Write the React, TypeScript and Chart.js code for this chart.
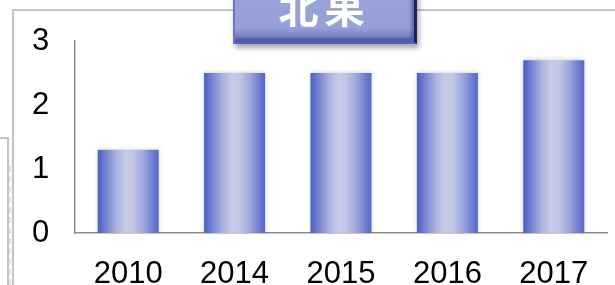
import React, { useEffect, useRef } from "react";
import { Chart, registerables } from "chart.js";

Chart.register(...registerables);

const categories = ["2010", "2014", "2015", "2016", "2017"];
const values = [1.3, 2.5, 2.5, 2.5, 2.7];
const yTicks = [0, 1, 2, 3];
const titleText = "北果";

const W = 615;
const H = 285;
const BAR_PCT = 0.573;

export default function App() {
  const ref = useRef<HTMLCanvasElement | null>(null);

  useEffect(() => {
    const canvas = ref.current;
    if (!canvas) return;

    const shadowPlugin = {
      id: "barShadow",
      beforeDatasetsDraw(chart: any) {
        const c = chart.ctx;
        c.save();
        c.shadowColor = "rgba(0,0,0,0.22)";
        c.shadowBlur = 5;
        c.shadowOffsetX = 0;
        c.shadowOffsetY = 0;
      },
      afterDatasetsDraw(chart: any) {
        chart.ctx.restore();
      },
    };

    const chart = new Chart(canvas, {
      type: "bar",
      data: {
        labels: categories,
        datasets: [
          {
            data: values,
            borderWidth: 0,
            categoryPercentage: 1,
            barPercentage: BAR_PCT,
            backgroundColor: (ctx: any) => {
              const ch = ctx.chart;
              const area = ch.chartArea;
              const xs = ch.scales && ch.scales.x;
              if (!area || !xs || ctx.dataIndex === undefined) return "#7d8ad4";
              const cx = xs.getPixelForValue(ctx.dataIndex);
              const bw = ((area.right - area.left) / categories.length) * BAR_PCT;
              const l = cx - bw / 2;
              const r = cx + bw / 2;
              const g = ch.ctx.createLinearGradient(l, 0, r, 0);
              g.addColorStop(0, "#4b5dc6");
              g.addColorStop(0.12, "#7080d0");
              g.addColorStop(0.3, "#a9b1df");
              g.addColorStop(0.45, "#c6cbe7");
              g.addColorStop(0.58, "#c2c7e6");
              g.addColorStop(0.75, "#9ea7dc");
              g.addColorStop(0.9, "#6f7fd0");
              g.addColorStop(1, "#5466c9");
              return g;
            },
          },
        ],
      },
      options: {
        animation: false,
        responsive: false,
        maintainAspectRatio: false,
        devicePixelRatio: 1,
        layout: { padding: { top: 41, right: 8, left: 32, bottom: 0 } },
        plugins: {
          legend: { display: false },
          tooltip: { enabled: false },
          title: { display: false },
        },
        scales: {
          x: {
            grid: { display: false, drawTicks: false },
            border: { display: true, color: "#8c8c8c", width: 1.5 },
            ticks: {
              color: "#000",
              padding: 23,
              maxRotation: 0,
              font: { family: "'Liberation Sans', Arial, sans-serif", size: 31 },
            },
            afterFit: (s: any) => {
              s.height = 52;
            },
          },
          y: {
            min: 0,
            max: 3,
            grid: { display: false, drawTicks: false },
            border: { display: true, color: "#8c8c8c", width: 1.5 },
            afterBuildTicks: (s: any) => {
              s.ticks = yTicks.map((v) => ({ value: v }));
            },
            ticks: {
              color: "#000",
              padding: 0,
              crossAlign: "far",
              font: { family: "'Liberation Sans', Arial, sans-serif", size: 31 },
              callback: (v: any) => String(v),
            },
            afterFit: (s: any) => {
              s.width = 43;
            },
          },
        },
      },
      plugins: [shadowPlugin],
    } as any);

    return () => chart.destroy();
  }, []);

  const line = "#c4c4c4";
  return (
    <div
      style={{
        position: "fixed",
        left: 0,
        top: 0,
        width: W,
        height: H,
        overflow: "hidden",
        background: "#fff",
      }}
    >
      {/* slide frame decorations */}
      <div style={{ position: "absolute", left: 12, top: 9, width: W - 12, height: 0, borderTop: `2px solid ${line}` }} />
      <div style={{ position: "absolute", left: 12, top: 9, width: 0, height: H - 9, borderLeft: `2px solid ${line}` }} />
      <div style={{ position: "absolute", left: 0, top: 137, width: 8, height: 0, borderTop: `2px solid ${line}` }} />
      <div style={{ position: "absolute", left: 7, top: 137, width: 0, height: H - 137, borderLeft: `2px solid ${line}` }} />
      <div style={{ position: "absolute", left: 9, top: 166, width: 0, height: H - 166, borderLeft: "2px dashed #cfe8f2" }} />
      <div style={{ position: "absolute", left: 14, top: 11, width: W - 14, height: H - 11, background: "#fff" }} />

      <canvas ref={ref} width={W} height={H} style={{ position: "absolute", left: 0, top: 0, width: W, height: H }} />

      {/* title box */}
      <div
        style={{
          position: "absolute",
          left: 233,
          top: -30,
          width: 184,
          height: 74,
          boxSizing: "border-box",
          background: "linear-gradient(180deg, #9aa2da 0%, #98a0d8 80%, #7f87c8 90%, #6a72bc 100%)",
          borderRight: "3px solid #1e1f52",
          borderBottom: "2px solid #4f5fe0",
          borderLeft: "2px solid #6b73c4",
          boxShadow: "2px 4px 5px rgba(0,0,0,0.35), inset -3px -4px 3px rgba(50,52,120,0.45)",
        }}
      >
        <div
          style={{
            position: "absolute",
            left: 0,
            right: 0,
            top: 16,
            textAlign: "center",
            color: "#fff",
            fontFamily: "'Noto Sans CJK SC', sans-serif",
            fontWeight: 700,
            fontSize: 40,
            lineHeight: "40px",
            letterSpacing: 6,
          }}
        >
          {titleText}
        </div>
      </div>
    </div>
  );
}
